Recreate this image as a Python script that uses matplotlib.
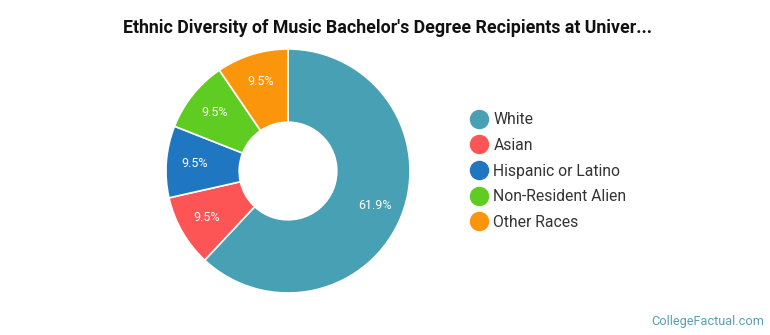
import matplotlib
matplotlib.use("Agg")
import matplotlib.pyplot as plt
from matplotlib.lines import Line2D

plt.rcParams['font.family'] = ['Roboto', 'DejaVu Sans']

categories = ["White", "Asian", "Hispanic or Latino", "Non-Resident Alien", "Other Races"]
values = [61.9, 9.5, 9.5, 9.5, 9.5]
colors = ["#48a0b4", "#fd5555", "#1f76c1", "#5fcc22", "#fb950c"]
title = "Ethnic Diversity of Music Bachelor's Degree Recipients at Univer..."

W, H = 770, 335
fig = plt.figure(figsize=(W / 100, H / 100), dpi=100)

cx, cy, R = 288, H - 171, 122
ax = fig.add_axes([(cx - R) / W, (cy - R) / H, 2 * R / W, 2 * R / H])
labels_iter = iter(values)
wedges, texts, autotexts = ax.pie(
    values, colors=colors, startangle=90, counterclock=False,
    radius=1.0, autopct=lambda p: f"{next(labels_iter):.1f}%", pctdistance=0.765,
    wedgeprops=dict(width=0.6, edgecolor="white", linewidth=1.2),
    textprops=dict(color="white", fontsize=9))
ax.set_xlim(-1.0, 1.0)
ax.set_ylim(-1.0, 1.0)
ax.set_aspect("equal")
ax.axis("off")

fig.text(388 / W, 1 - 28 / H, title, ha="center", va="center",
         fontsize=12.8, fontweight="bold", color="#111111")

handles = [Line2D([0], [0], marker="o", linestyle="none", markersize=13,
                  markerfacecolor=c, markeredgecolor=c) for c in colors]
leg = fig.legend(handles, categories, loc="upper left",
                 bbox_to_anchor=(462 / W, 1 - 106 / H), frameon=False,
                 fontsize=11.3, labelspacing=0.68, handletextpad=0.2,
                 handlelength=1.4, borderaxespad=0)
for t in leg.get_texts():
    t.set_color("#333333")

fig.text(764 / W, 1 - 321 / H, "CollegeFactual.com", ha="right", va="center",
         fontsize=9.2, color="#5a9fb5")

fig.savefig("out.png", dpi=100)
